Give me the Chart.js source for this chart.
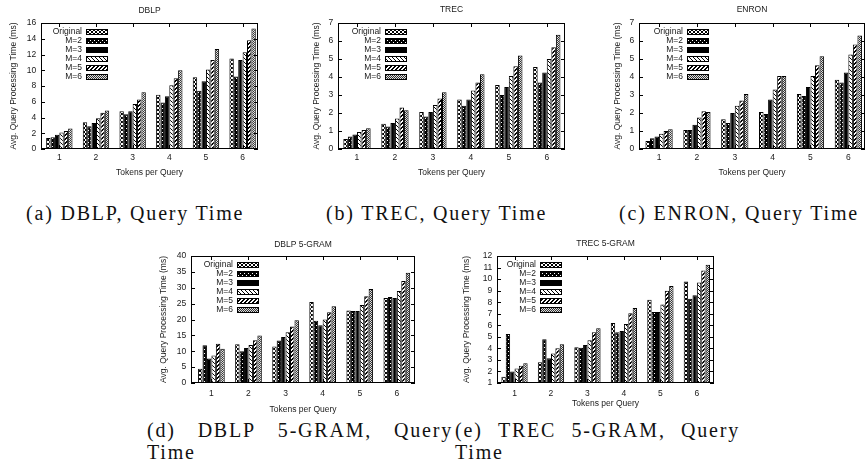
<!DOCTYPE html>
<html><head><meta charset="utf-8">
<script src="https://cdn.jsdelivr.net/npm/chart.js@4.4.1/dist/chart.umd.min.js"></script>
<style>
html,body{margin:0;padding:0;background:#fff;}
body{width:867px;height:468px;position:relative;overflow:hidden;}
canvas{position:absolute;}
.cap{position:absolute;font-family:"Liberation Serif","Times New Roman",serif;font-size:20px;line-height:22px;color:#111;white-space:nowrap;letter-spacing:1.8px;}
.row{display:flex;justify-content:space-between;}
</style></head><body>
<div class="cap" style="left:26px;top:202px">(a) DBLP, Query Time</div>
<div class="cap" style="left:326px;top:202px">(b) TREC, Query Time</div>
<div class="cap" style="left:619px;top:202px">(c) ENRON, Query Time</div>
<div class="cap" style="left:147px;top:419px;width:306px"><div class="row"><span>(d)</span><span>DBLP</span><span>5-GRAM,</span><span>Query</span></div><div>Time</div></div>
<div class="cap" style="left:455px;top:419px;width:285px"><div class="row"><span>(e)</span><span>TREC</span><span>5-GRAM,</span><span>Query</span></div><div>Time</div></div>
<script>
// ---- data ----
const tokens = ['1', '2', '3', '4', '5', '6'];
const seriesNames = ['Original', 'M=2', 'M=3', 'M=4', 'M=5', 'M=6'];
// each row: one series (Original, M=2 ... M=6), values for tokens 1..6
const dblpTimes = [
  [1.4, 3.4, 4.8, 6.9, 9.1, 11.5],
  [1.5, 2.9, 4.4, 5.9, 7.4, 9.2],
  [1.8, 3.3, 4.8, 6.7, 8.6, 11.3],
  [2.1, 3.9, 5.7, 8.1, 10.1, 12.3],
  [2.3, 4.6, 6.3, 9.0, 11.3, 13.8],
  [2.6, 4.9, 7.2, 10.0, 12.7, 15.3]
];
const trecTimes = [
  [0.55, 1.4, 2.05, 2.75, 3.55, 4.55],
  [0.7, 1.25, 1.8, 2.4, 3.0, 3.7],
  [0.8, 1.45, 2.05, 2.75, 3.45, 4.25],
  [0.95, 1.7, 2.45, 3.25, 4.05, 5.0],
  [1.05, 2.3, 2.8, 3.7, 4.6, 5.65],
  [1.15, 2.15, 3.15, 4.15, 5.2, 6.35]
];
const enronTimes = [
  [0.45, 1.05, 1.65, 2.05, 3.05, 3.85],
  [0.6, 1.05, 1.45, 1.95, 2.95, 3.7],
  [0.7, 1.35, 2.0, 2.75, 3.45, 4.25],
  [0.85, 1.75, 2.4, 3.3, 4.05, 5.25],
  [1.0, 2.1, 2.7, 4.05, 4.65, 5.8],
  [1.1, 2.05, 3.05, 4.05, 5.15, 6.3]
];
const dblp5gramTimes = [
  [4.5, 12.2, 11.5, 25.5, 22.8, 26.8],
  [11.9, 10.0, 13.4, 19.6, 22.7, 27.1],
  [7.7, 11.0, 14.5, 18.2, 22.7, 26.8],
  [8.7, 12.0, 16.0, 20.0, 24.6, 29.0],
  [12.4, 13.5, 17.8, 22.3, 27.3, 32.1],
  [10.8, 15.0, 19.8, 24.2, 29.6, 34.7]
];
const trec5gramTimes = [
  [1.55, 2.8, 4.1, 6.2, 8.2, 9.8],
  [5.25, 4.8, 4.05, 5.4, 7.15, 8.3],
  [2.0, 3.15, 4.3, 5.5, 7.15, 8.6],
  [2.25, 3.55, 4.7, 6.1, 7.8, 9.7],
  [2.5, 4.0, 5.4, 7.05, 9.0, 10.75],
  [2.7, 4.35, 5.75, 7.5, 9.4, 11.25]
];
const xTitle = 'Tokens per Query';
const yTitle = 'Avg. Query Processing Time (ms)';

// ---- fill patterns (gnuplot-like) ----
function pat(size, draw) {
  const c = document.createElement('canvas');
  c.width = size; c.height = size;
  const g = c.getContext('2d');
  draw(g);
  return g.createPattern(c, 'repeat');
}
function px(g, list, col) { g.fillStyle = col; list.forEach(p => g.fillRect(p[0], p[1], 1, 1)); }
const patterns = [
  pat(4, g => { g.fillStyle = '#000'; g.fillRect(0,0,4,4); g.fillStyle = '#fff'; g.fillRect(0,0,2,2); g.fillRect(2,2,2,2); }),
  pat(4, g => { g.fillStyle = '#000'; g.fillRect(0,0,4,4); px(g, [[1,1],[3,3]], '#fff'); }),
  '#000',
  pat(4, g => { g.fillStyle = '#fff'; g.fillRect(0,0,4,4); px(g, [[0,0],[1,1],[2,2],[3,3]], '#000'); }),
  pat(4, g => { g.fillStyle = '#fff'; g.fillRect(0,0,4,4); px(g, [[3,0],[2,1],[1,2],[0,3],[0,0],[3,1],[2,2],[1,3]], '#000'); }),
  pat(2, g => { g.fillStyle = '#e0e0e0'; g.fillRect(0,0,2,2); px(g, [[0,0],[1,1]], '#333'); })
];

const FONT = {family: '"Liberation Sans", Arial, sans-serif', size: 8.5};
const TXT = '#1a1a1a';

const decor = {
  id: 'decor',
  afterDatasetsDraw(chart, args, o) {
    const {ctx, chartArea: a, scales: {x, y}} = chart;
    const L = Math.round(a.left), R = Math.round(a.right), T = Math.round(a.top), B = Math.round(a.bottom);
    ctx.save();
    ctx.strokeStyle = '#000'; ctx.lineWidth = 1;
    ctx.beginPath();
    y.ticks.forEach(t => {
      const p = Math.round(y.getPixelForValue(t.value)) + 0.5;
      ctx.moveTo(L, p); ctx.lineTo(L + 4, p);
      ctx.moveTo(R, p); ctx.lineTo(R - 4, p);
    });
    x.ticks.forEach(t => {
      const p = Math.round(x.getPixelForValue(t.value)) + 0.5;
      ctx.moveTo(p, B); ctx.lineTo(p, B - 4);
      ctx.moveTo(p, T); ctx.lineTo(p, T + 4);
    });
    ctx.stroke();
    ctx.strokeRect(L + 0.5, T + 0.5, R - L - 1, B - T - 1);
    // title
    ctx.fillStyle = TXT;
    ctx.font = FONT.size + 'px ' + FONT.family;
    ctx.textAlign = 'center'; ctx.textBaseline = 'middle';
    ctx.fillText(o.title, (a.left + a.right) / 2, a.top - o.titleGap);
    // legend
    ctx.textAlign = 'right';
    chart.data.datasets.forEach((ds, i) => {
      const cy = Math.round(a.top + 9 + i * 9);
      ctx.fillStyle = TXT;
      ctx.fillText(ds.label, L + o.legText, cy);
      ctx.fillStyle = ds.backgroundColor;
      ctx.fillRect(L + o.legText + 4, cy - 2, 21, 5);
      ctx.strokeRect(L + o.legText + 4.5, cy - 2.5, 21, 5);
    });
    ctx.restore();
  }
};

function makeChart(spec) {
  const ML = 40, MT = 24, MR = 6;
  const MB = Math.round(spec.xTitleGap + 5.1 + 1);
  const a = spec.area;
  const cv = document.createElement('canvas');
  const w = a.w + ML + MR, h = a.h + MT + MB;
  cv.width = w; cv.height = h;
  cv.style.left = (a.x - ML) + 'px'; cv.style.top = (a.y - MT) + 'px';
  cv.style.width = w + 'px'; cv.style.height = h + 'px';
  document.body.appendChild(cv);
  new Chart(cv, {
    type: 'bar',
    data: {
      datasets: seriesNames.map((n, i) => ({
        label: n,
        data: spec.values[i].map((v, k) => ({x: k, y: v})),
        backgroundColor: patterns[i],
        borderColor: '#000',
        borderWidth: 1,
        categoryPercentage: 0.72,
        barPercentage: 1
      }))
    },
    options: {
      responsive: false, animation: false, devicePixelRatio: 1,
      layout: {padding: {top: MT, right: MR, left: 0, bottom: 0}},
      plugins: {legend: {display: false}, tooltip: {enabled: false},
        decor: {title: spec.title, titleGap: spec.titleGap, legText: spec.legText}},
      scales: {
        x: {
          type: 'linear', min: spec.xMin, max: spec.xMax, offset: false,
          afterBuildTicks: s => { s.ticks = tokens.map((t, i) => ({value: i})); },
          afterFit: s => { s.height = MB; },
          grid: {display: false, drawTicks: false}, border: {display: false},
          ticks: {padding: spec.xTickGap - 5.1, font: FONT, color: TXT, autoSkip: false, maxRotation: 0,
            callback: v => tokens[v] !== undefined ? tokens[v] : ''},
          title: {display: true, text: xTitle, font: FONT, color: TXT, padding: {top: 0, bottom: 1}}
        },
        y: {
          min: spec.yMin, max: spec.yMax,
          afterFit: s => { s.width = ML; },
          grid: {display: false, drawTicks: false}, border: {display: false},
          ticks: {stepSize: spec.yStep, padding: 4.7, font: FONT, color: TXT, autoSkip: false},
          title: {display: true, text: yTitle, font: FONT, color: TXT,
            padding: {top: ML - spec.yTitleGap - 5.1, bottom: 0}}
        }
      }
    },
    plugins: [decor]
  });
}

makeChart({area: {x: 41, y: 23, w: 217, h: 126}, title: 'DBLP', values: dblpTimes,
  yMin: 0, yMax: 16, yStep: 2, xMin: -0.5, xMax: 5.42,
  yTitleGap: 27, xTitleGap: 23.5, xTickGap: 9, titleGap: 12.7, legText: 41});
makeChart({area: {x: 338, y: 23, w: 227, h: 126}, title: 'TREC', values: trecTimes,
  yMin: 0, yMax: 7, yStep: 1, xMin: -0.5, xMax: 5.48,
  yTitleGap: 21.5, xTitleGap: 23.5, xTickGap: 9, titleGap: 13, legText: 43});
makeChart({area: {x: 639, y: 23, w: 226, h: 126}, title: 'ENRON', values: enronTimes,
  yMin: 0, yMax: 7, yStep: 1, xMin: -0.53, xMax: 5.44,
  yTitleGap: 21.5, xTitleGap: 23.5, xTickGap: 9, titleGap: 13, legText: 44});
makeChart({area: {x: 191, y: 256, w: 224, h: 127}, title: 'DBLP 5-GRAM', values: dblp5gramTimes,
  yMin: 0, yMax: 40, yStep: 5, xMin: -0.55, xMax: 5.49,
  yTitleGap: 27, xTitleGap: 27, xTickGap: 10.5, titleGap: 11.5, legText: 42});
makeChart({area: {x: 497, y: 256, w: 217, h: 127}, title: 'TREC 5-GRAM', values: trec5gramTimes,
  yMin: 1, yMax: 12, yStep: 1, xMin: -0.48, xMax: 5.47,
  yTitleGap: 30.5, xTitleGap: 21, xTickGap: 11, titleGap: 12, legText: 39});
</script>
</body></html>
